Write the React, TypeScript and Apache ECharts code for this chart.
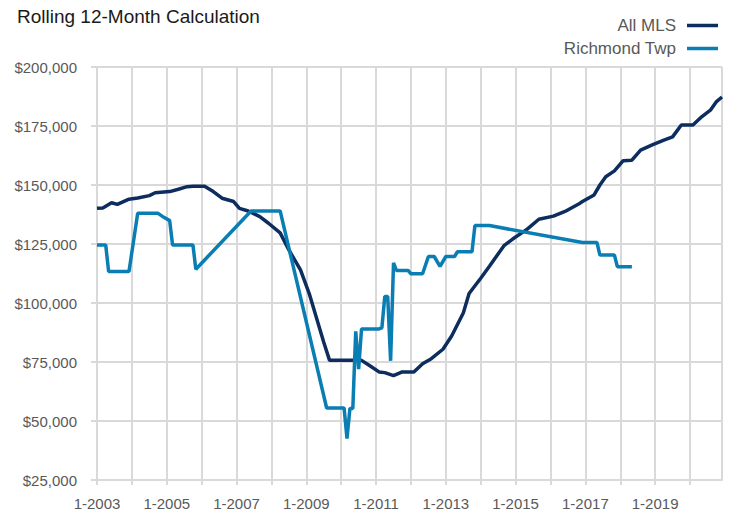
import React, { useEffect, useRef } from "react";
import * as echarts from "echarts";

const startYear = 2003;
const endYear = 2020;
const categories: string[] = [];
for (let y = startYear; y <= endYear; y++) {
  for (let m = 1; m <= 12; m++) categories.push(`${m}-${y}`);
}

const yTicks = [25000, 50000, 75000, 100000, 125000, 150000, 175000, 200000];

const seriesNames = ["All MLS", "Richmond Twp"];

const allMls: [string, number][] = [
  ["1-2003", 140100], ["3-2003", 140300], ["6-2003", 142500], ["8-2003", 141800],
  ["12-2003", 144000], ["3-2004", 144500], ["7-2004", 145500], ["9-2004", 146700],
  ["2-2005", 147200], ["5-2005", 148200], ["8-2005", 149300], ["10-2005", 149500],
  ["2-2006", 149500], ["5-2006", 147200], ["8-2006", 144400], ["12-2006", 143000],
  ["2-2007", 140100], ["5-2007", 139000], ["9-2007", 136600], ["12-2007", 133800],
  ["4-2008", 129700], ["7-2008", 122500], ["11-2008", 114000], ["2-2009", 104000],
  ["7-2009", 83400], ["9-2009", 75700], ["8-2010", 75700], ["11-2010", 73300],
  ["2-2011", 70800], ["4-2011", 70500], ["7-2011", 69200], ["10-2011", 70800],
  ["2-2012", 70800], ["5-2012", 74300], ["8-2012", 76400], ["12-2012", 80400],
  ["3-2013", 86000], ["7-2013", 95800], ["9-2013", 104000], ["1-2014", 110500],
  ["4-2014", 115600], ["9-2014", 124300], ["12-2014", 127100], ["5-2015", 131300],
  ["9-2015", 135500], ["2-2016", 136800], ["6-2016", 138800], ["11-2016", 142200],
  ["12-2016", 143000], ["4-2017", 145800], ["6-2017", 150000], ["8-2017", 153500],
  ["11-2017", 156000], ["2-2018", 160300], ["5-2018", 160500], ["8-2018", 164800],
  ["12-2018", 167000], ["4-2019", 169000], ["7-2019", 170400], ["10-2019", 175400],
  ["2-2020", 175400], ["5-2020", 178900], ["8-2020", 181700], ["10-2020", 185200],
  ["12-2020", 187300],
];

const richmond: [string, number][] = [
  ["1-2003", 124600], ["4-2003", 124600], ["5-2003", 113300], ["12-2003", 113300],
  ["3-2004", 138000], ["10-2004", 138000], ["12-2004", 136300], ["2-2005", 134900],
  ["3-2005", 124600], ["10-2005", 124600], ["11-2005", 114300], ["6-2007", 139000],
  ["4-2008", 139000], ["8-2009", 55500], ["2-2010", 55500], ["3-2010", 42500],
  ["4-2010", 55300], ["5-2010", 55300], ["6-2010", 88000], ["7-2010", 72000],
  ["8-2010", 89000], ["2-2011", 89000], ["3-2011", 89500], ["4-2011", 102800],
  ["5-2011", 102800], ["6-2011", 75500], ["7-2011", 117000], ["8-2011", 113800],
  ["12-2011", 113800], ["1-2012", 112400], ["5-2012", 112400], ["7-2012", 119700],
  ["9-2012", 119700], ["11-2012", 115500], ["1-2013", 119700], ["4-2013", 119700],
  ["5-2013", 121700], ["10-2013", 121700], ["11-2013", 132800], ["4-2014", 132800],
  ["12-2016", 125600], ["5-2017", 125600], ["6-2017", 120300], ["11-2017", 120300],
  ["12-2017", 115400], ["5-2018", 115400],
];

const FONT = "'Liberation Sans', Arial, Helvetica, sans-serif";
const GRID_COLOR = "#d9d9d9";
const LABEL_COLOR = "#595959";

function fmtMoney(v: number): string {
  const s = String(Math.round(v));
  return "$" + s.replace(/\B(?=(\d{3})+(?!\d))/g, ",");
}

function toIdx(d: [string, number][]) {
  return d.map(([c, v]) => [categories.indexOf(c), v]);
}

export default function App() {
  const ref = useRef<HTMLDivElement>(null);
  useEffect(() => {
    if (!ref.current) return;
    const chart = echarts.init(ref.current, undefined, { renderer: "svg" });
    const last = categories.length - 1;
    chart.setOption({
      animation: false,
      backgroundColor: "#ffffff",
      title: {
        text: "Rolling 12-Month Calculation",
        left: 12,
        top: 2,
        textStyle: { fontFamily: FONT, fontSize: 19, fontWeight: "normal", color: "#1a1a1a" },
      },
      legend: {
        orient: "vertical",
        right: 9,
        top: 12,
        align: "right",
        icon: "rect",
        itemWidth: 31,
        itemHeight: 3.5,
        itemGap: 6,
        data: seriesNames,
        textStyle: {
          fontFamily: FONT,
          fontSize: 17,
          color: LABEL_COLOR,
          lineHeight: 17,
          padding: [0, 6, 0, 0],
        },
      },
      grid: { left: 97, right: 10, top: 67, bottom: 35, containLabel: false },
      xAxis: {
        type: "category",
        data: categories,
        boundaryGap: false,
        axisLine: { show: true, lineStyle: { color: GRID_COLOR, width: 2 } },
        axisTick: {
          show: true,
          length: 5,
          interval: (i: number) => i % 12 === 0,
          lineStyle: { color: GRID_COLOR, width: 2 },
        },
        axisLabel: {
          interval: (i: number) => i % 24 === 0,
          margin: 16,
          fontFamily: FONT,
          fontSize: 15,
          color: LABEL_COLOR,
        },
        splitLine: {
          show: true,
          interval: (i: number) => i % 12 === 0 || i === last,
          lineStyle: { color: GRID_COLOR, width: 2 },
        },
      },
      yAxis: {
        type: "value",
        min: yTicks[0],
        max: yTicks[yTicks.length - 1],
        interval: 25000,
        axisLine: { show: true, lineStyle: { color: GRID_COLOR, width: 2 } },
        axisTick: { show: true, length: 6, lineStyle: { color: GRID_COLOR, width: 2 } },
        axisLabel: {
          margin: 20,
          fontFamily: FONT,
          fontSize: 15,
          color: LABEL_COLOR,
          formatter: (v: number) => fmtMoney(v),
        },
        splitLine: { show: true, lineStyle: { color: GRID_COLOR, width: 2 } },
      },
      series: [
        {
          name: seriesNames[0],
          type: "line",
          data: toIdx(allMls),
          showSymbol: false,
          symbol: "none",
          color: "#0c2d5e",
          lineStyle: { color: "#0c2d5e", width: 3.5 },
        },
        {
          name: seriesNames[1],
          type: "line",
          data: toIdx(richmond),
          showSymbol: false,
          symbol: "none",
          color: "#0a7db3",
          lineStyle: { color: "#0a7db3", width: 3.5 },
        },
      ],
    });
    return () => chart.dispose();
  }, []);
  return (
    <div
      ref={ref}
      style={{ position: "fixed", left: 0, top: 0, width: 732, height: 515 }}
    />
  );
}
